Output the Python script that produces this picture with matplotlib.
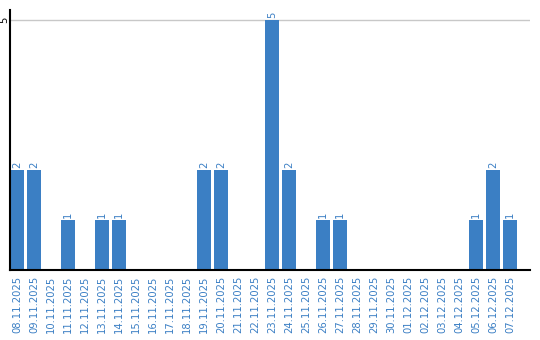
import matplotlib
matplotlib.use('Agg')
import matplotlib.pyplot as plt
import numpy as np

dates = ['08.11.2025', '09.11.2025', '10.11.2025', '11.11.2025', '12.11.2025',
         '13.11.2025', '14.11.2025', '15.11.2025', '16.11.2025', '17.11.2025',
         '18.11.2025', '19.11.2025', '20.11.2025', '21.11.2025', '22.11.2025',
         '23.11.2025', '24.11.2025', '25.11.2025', '26.11.2025', '27.11.2025',
         '28.11.2025', '29.11.2025', '30.11.2025', '01.12.2025', '02.12.2025',
         '03.12.2025', '04.12.2025', '05.12.2025', '06.12.2025', '07.12.2025']
counts = [2, 2, 0, 1, 0, 1, 1, 0, 0, 0,
          0, 2, 2, 0, 0, 5, 2, 0, 1, 1,
          0, 0, 0, 0, 0, 0, 0, 1, 2, 1]

blue = '#3b7fc4'

fig = plt.figure(figsize=(5.4, 3.4), dpi=100)
ax = fig.add_axes([10 / 540, 70 / 340, 520 / 540, 260 / 340])

x = np.arange(len(dates))
ax.bar(x, counts, width=0.82, color=blue, zorder=2)
for xi, c in zip(x, counts):
    if c > 0:
        ax.text(xi, c + 0.04, str(c), rotation=90, ha='center', va='bottom',
                color=blue, fontsize=7.2)

ax.set_xlim(-0.41, 30.18)
ax.set_ylim(0, 5.2)
ax.axhline(5, color='#c8c8c8', lw=1, zorder=1)

ax.set_xticks(x)
ax.set_xticklabels(dates, rotation=90, color=blue, fontsize=7.2)
ax.set_yticks([5])
ax.set_yticklabels(['5'], rotation=90, fontsize=7.2, va='center')
ax.tick_params(axis='both', length=0, pad=4)
ax.tick_params(axis='y', pad=0.5)

for s in ['top', 'right']:
    ax.spines[s].set_visible(False)
ax.spines['left'].set_color('black')
ax.spines['bottom'].set_color('black')
ax.spines['left'].set_linewidth(1.5)
ax.spines['bottom'].set_linewidth(1.5)

fig.savefig('out.png', dpi=100)
